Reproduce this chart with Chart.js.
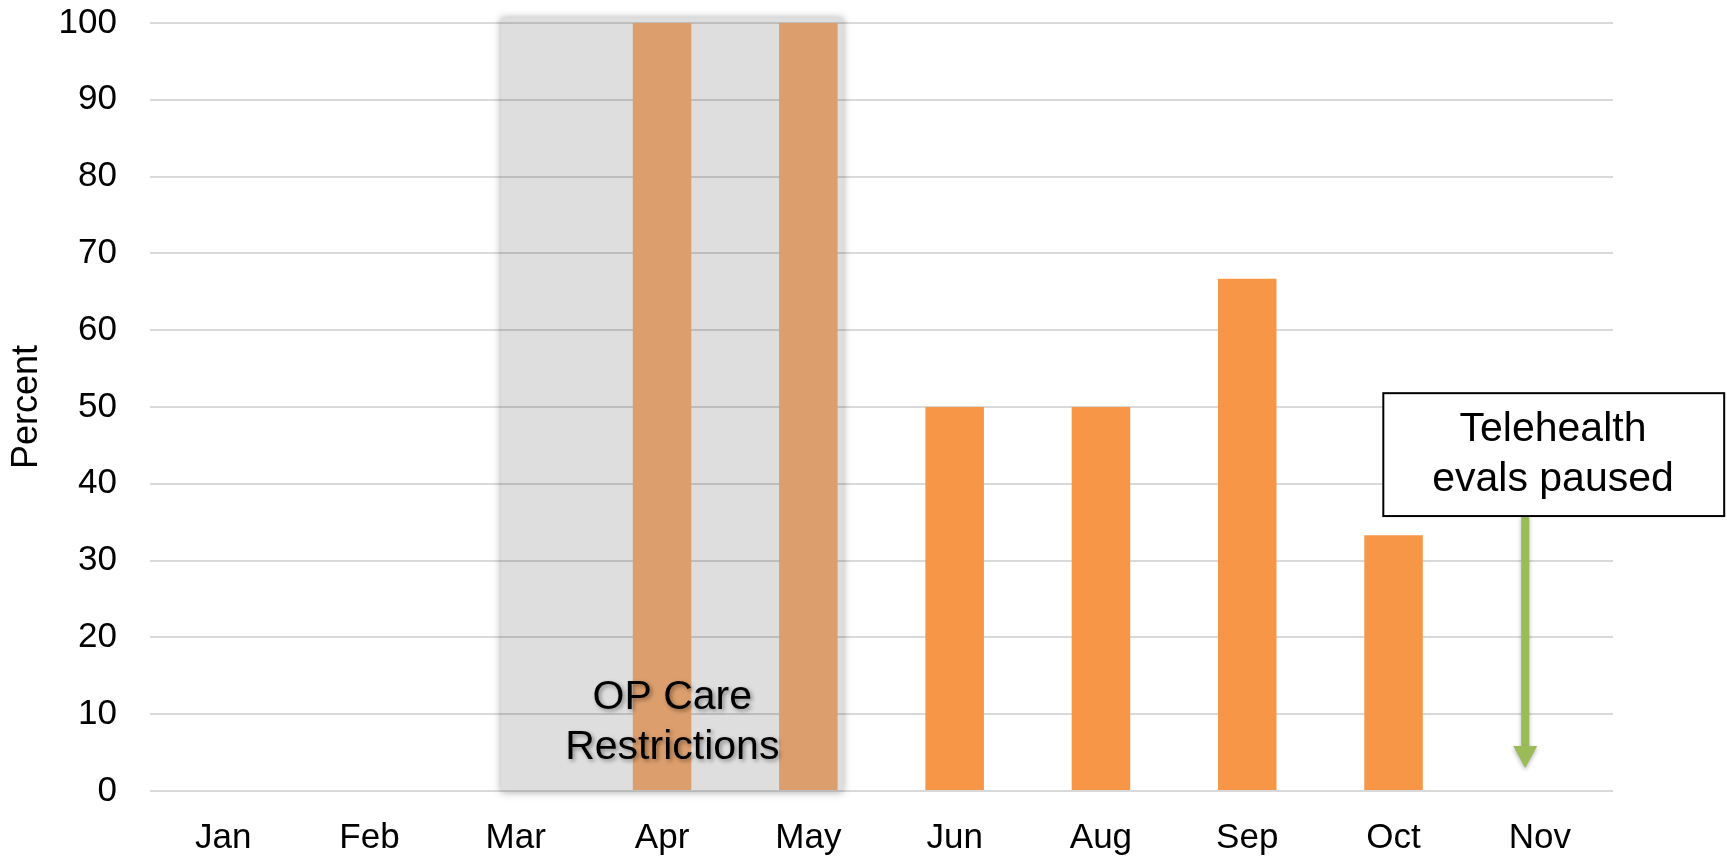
<!DOCTYPE html>
<html>
<head>
<meta charset="utf-8">
<script src="https://cdn.jsdelivr.net/npm/chart.js@4"></script>
<style>
  html, body { margin: 0; padding: 0; background: #fff; }
  #wrap { width: 1727px; height: 857px; }
</style>
</head>
<body>
<div id="wrap"><canvas id="myChart" width="1727" height="857"></canvas></div>
<script>
// data
const months = ["Jan", "Feb", "Mar", "Apr", "May", "Jun", "Aug", "Sep", "Oct", "Nov"];
const percent = [0, 0, 0, 100, 100, 50, 50, 66.7, 33.3, 0];
const yTicks = [0, 10, 20, 30, 40, 50, 60, 70, 80, 90, 100];
const shadedMonths = ["Apr", "May"];

const FONT = "'Liberation Sans', Arial, sans-serif";

// annotations, in data units (category index / percent)
const restrictBox = { x0: 1.9, x1: 4.24, y0: -0.1, y1: 100.7 };
const restrictText = { x: 3.07, lines: [["OP Care", 12.2], ["Restrictions", 5.7]] };
const pauseBox = { x0: 7.93, x1: 10.26, y0: 35.8, y1: 51.8 };
const pauseText = { x: 9.09, lines: [["Telehealth", 47.0], ["evals paused", 40.5]] };
const pauseArrow = { x: 8.9, from: 35.8, to: 3.0 };

const annotations = {
    id: "annotations",
    beforeDraw(chart) {
        const { ctx, scales: { x, y } } = chart;
        const l = x.getPixelForValue(restrictBox.x0), r = x.getPixelForValue(restrictBox.x1);
        const t = y.getPixelForValue(restrictBox.y1), b = y.getPixelForValue(restrictBox.y0);
        ctx.save();
        ctx.shadowColor = "rgba(0,0,0,0.35)";
        ctx.shadowBlur = 8;
        ctx.fillStyle = "#DEDEDE";
        ctx.fillRect(l, t, r - l, b - t);
        ctx.restore();
    },
    afterDatasetsDraw(chart) {
        const { ctx, scales: { x, y } } = chart;
        ctx.save();
        ctx.font = "41px " + FONT;
        ctx.textAlign = "center";
        ctx.textBaseline = "middle";
        ctx.fillStyle = "#000";
        ctx.shadowColor = "rgba(0,0,0,0.4)";
        ctx.shadowBlur = 4;
        ctx.shadowOffsetX = 2;
        ctx.shadowOffsetY = 2;
        restrictText.lines.forEach(([txt, v]) => {
            ctx.fillText(txt, x.getPixelForValue(restrictText.x), y.getPixelForValue(v));
        });
        ctx.restore();
    },
    afterDraw(chart) {
        const { ctx, scales: { x, y } } = chart;
        // green arrow
        const ax = x.getPixelForValue(pauseArrow.x);
        const aTop = y.getPixelForValue(pauseArrow.from);
        const aTip = y.getPixelForValue(pauseArrow.to);
        ctx.save();
        ctx.shadowColor = "rgba(0,0,0,0.3)";
        ctx.shadowBlur = 4;
        ctx.shadowOffsetY = 2;
        ctx.fillStyle = "#9BBB59";
        ctx.fillRect(ax - 4, aTop, 8, aTip - aTop - 22);
        ctx.beginPath();
        ctx.moveTo(ax - 12, aTip - 22);
        ctx.lineTo(ax + 12, aTip - 22);
        ctx.lineTo(ax, aTip);
        ctx.closePath();
        ctx.fill();
        ctx.restore();

        // telehealth box
        const l = x.getPixelForValue(pauseBox.x0), r = x.getPixelForValue(pauseBox.x1);
        const t = y.getPixelForValue(pauseBox.y1), b = y.getPixelForValue(pauseBox.y0);
        ctx.save();
        ctx.fillStyle = "#fff";
        ctx.fillRect(l, t, r - l, b - t);
        ctx.strokeStyle = "#000";
        ctx.lineWidth = 2;
        ctx.strokeRect(l, t, r - l, b - t);
        ctx.font = "41px " + FONT;
        ctx.textAlign = "center";
        ctx.textBaseline = "middle";
        ctx.fillStyle = "#000";
        pauseText.lines.forEach(([txt, v]) => {
            ctx.fillText(txt, x.getPixelForValue(pauseText.x), y.getPixelForValue(v));
        });
        ctx.restore();
    }
};

const ctx = document.getElementById("myChart").getContext("2d");
const myChart = new Chart(ctx, {
    type: "bar",
    data: {
        labels: months,
        datasets: [
            {
                label: "Percent",
                data: percent,
                backgroundColor: months.map((m) => (shadedMonths.includes(m) ? "#DC9E6D" : "#F79646")),
                barPercentage: 0.4,
                categoryPercentage: 1,
            },
        ],
    },
    options: {
        responsive: false,
        animation: false,
        layout: { padding: { top: 23, right: 114, left: 0, bottom: 0 } },
        plugins: { legend: { display: false }, tooltip: { enabled: false } },
        scales: {
            x: {
                grid: { display: false },
                border: { display: false },
                ticks: { color: "#000", font: { family: FONT, size: 35 }, padding: 18, maxRotation: 0 },
                afterFit: (s) => { s.height = 66; },
            },
            y: {
                min: 0,
                max: 100,
                afterBuildTicks: (s) => { s.ticks = yTicks.map((v) => ({ value: v })); },
                grid: { color: "rgba(0,0,0,0.15)", lineWidth: 2, drawTicks: false },
                border: { display: false },
                ticks: { color: "#000", font: { family: FONT, size: 35 }, padding: 33 },
                title: {
                    display: true,
                    text: "Percent",
                    color: "#000",
                    font: { family: FONT, size: 36 },
                    padding: { top: 5, bottom: 0 },
                },
                afterFit: (s) => {
                    s.width = 150;
                    s.paddingTop = 0;
                    s.paddingBottom = 0;
                },
            },
        },
    },
    plugins: [annotations],
});
</script>
</body>
</html>
